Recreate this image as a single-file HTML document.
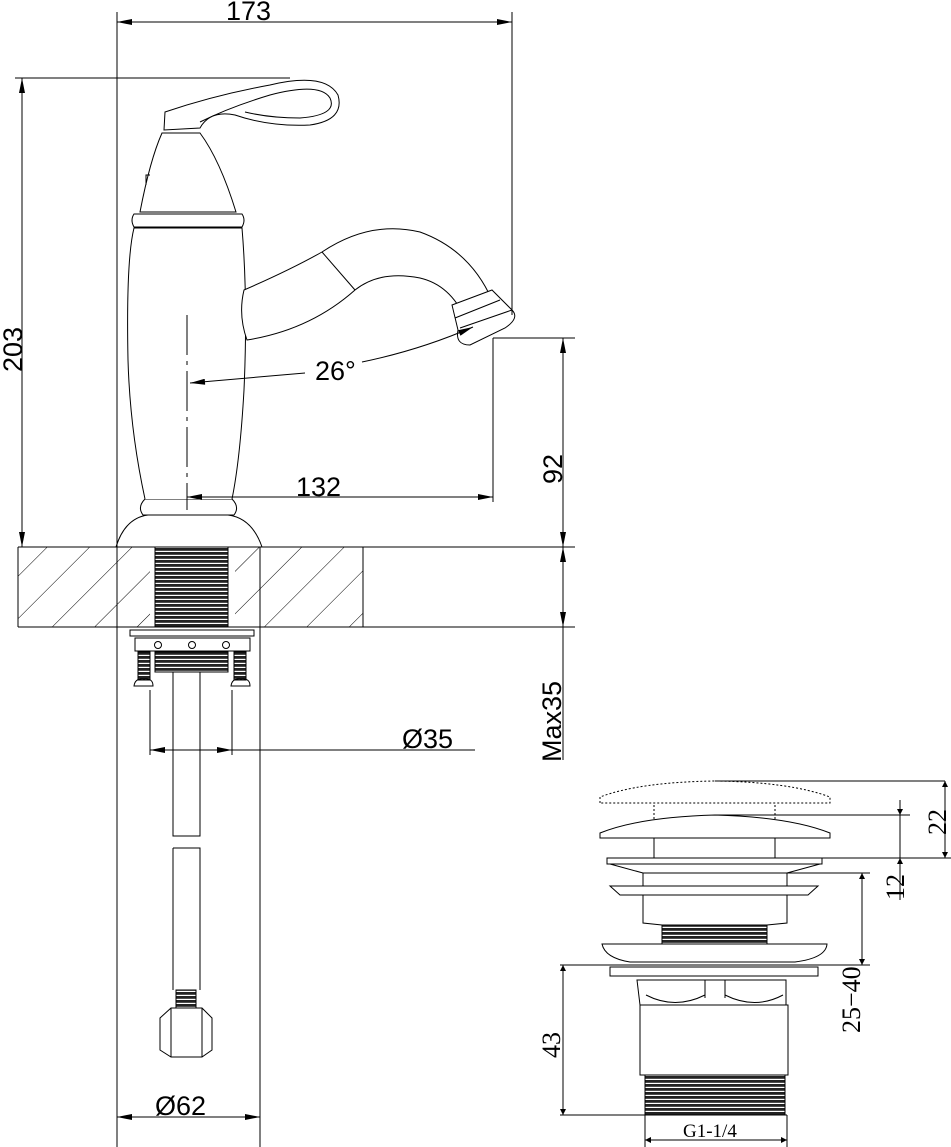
<!DOCTYPE html>
<html><head><meta charset="utf-8"><style>html,body{margin:0;padding:0;background:#fff}svg{display:block}</style></head>
<body>
<svg width="951" height="1147" viewBox="0 0 951 1147" xmlns="http://www.w3.org/2000/svg" font-family="Liberation Sans, sans-serif">
<defs>
<marker id="a" viewBox="0 0 10 10" refX="10" refY="5" markerWidth="10" markerHeight="6" orient="auto-start-reverse" markerUnits="userSpaceOnUse"><path d="M0,0L10,5L0,10z" fill="#000"/></marker>
<marker id="b" viewBox="0 0 20 8" refX="20" refY="4" markerWidth="20" markerHeight="6" orient="auto-start-reverse" markerUnits="userSpaceOnUse"><path d="M0,0L20,4L0,8z" fill="#000"/></marker>
<pattern id="hatch" width="30" height="30" patternUnits="userSpaceOnUse" patternTransform="rotate(45)"><line x1="0" y1="0" x2="0" y2="30" stroke="#000" stroke-width="1"/></pattern>
<pattern id="thr" width="6" height="4" patternUnits="userSpaceOnUse"><rect width="6" height="4" fill="#fff"/><rect y="0" width="6" height="2.8" fill="#222"/></pattern>
</defs>
<g fill="none" stroke="#000" stroke-width="1">
<rect x="18" y="547" width="345" height="80" fill="url(#hatch)" stroke="none"/>
<rect x="150" y="547" width="85" height="80" fill="#fff" stroke="none"/>
<line x1="18" y1="547" x2="575" y2="547"/>
<line x1="18" y1="627" x2="575" y2="627"/>
<line x1="18" y1="547" x2="18" y2="627"/>
<line x1="363" y1="547" x2="363" y2="627"/>
<path d="M116,547 Q125,518 148,515 L228,515 Q252,518 262,547 Z" fill="#fff"/>
<path d="M143,515 Q137,507 145,499 L232,499 Q240,507 234,515 Z" fill="#fff"/>
<path d="M145,499 Q130,430 128,360 Q126,260 134,228 L242,228 Q248,300 244,390 Q240,460 232,499" fill="#fff"/>
<path d="M134,227 Q130,220 134,214 L242,214 Q246,220 242,227 Z" fill="#fff"/>
<path d="M140,212 Q150,160 162,133 L200,133 Q220,160 236,212 Z" fill="#fff"/>
<path d="M150,175 L146,175 L146,185"/>
<path d="M164,130 L165,112 Q215,95 270,85 Q325,72 338,95 Q345,120 310,125 Q270,127 235,115 Q210,110 200,128 Z" fill="#fff"/>
<path d="M200,122 Q230,107 270,95 Q320,82 330,98 Q338,115 300,118 Q270,118 245,112"/>
<path d="M244,290 Q290,270 322,252 Q370,220 420,232 Q470,250 492,300 L465,318 Q450,285 420,278 Q380,270 355,290 Q310,330 247,340 Q238,315 244,290 Z" fill="#fff"/>
<line x1="322" y1="252" x2="355" y2="290"/>
<path d="M452,305 L492,290 L512,310 Q520,318 505,328 L470,345 Q455,345 458,330 Z" fill="#fff"/>
<line x1="455" y1="318" x2="500" y2="300"/>
<line x1="460" y1="328" x2="512" y2="310"/>
<rect x="155" y="547" width="73" height="80" fill="url(#thr)"/>
<rect x="130" y="630" width="124" height="6" fill="#fff"/>
<rect x="135" y="638" width="115" height="13" fill="#fff"/>
<circle cx="158" cy="645" r="3.5"/><circle cx="192" cy="645" r="3.5"/><circle cx="226" cy="645" r="3.5"/>
<rect x="155" y="652" width="73" height="20" fill="url(#thr)"/>
<rect x="138" y="652" width="12" height="28" fill="url(#thr)"/>
<rect x="234" y="652" width="12" height="28" fill="url(#thr)"/>
<path d="M134,686 Q135,678 144,679 Q153,678 153,686 Z"/>
<path d="M231,686 Q232,678 241,679 Q250,678 250,686 Z"/>
<path d="M173,672 L173,836 L200,836 L200,672"/>
<path d="M173,848 L200,848 L200,990 M173,848 L173,990"/>
<rect x="176" y="990" width="20" height="18" fill="url(#thr)"/>
<path d="M160,1018 L171,1008 L202,1008 L212,1018 L212,1050 L202,1057 L171,1057 L160,1050 Z" fill="#fff"/>
<line x1="171" y1="1008" x2="171" y2="1057"/><line x1="202" y1="1008" x2="202" y2="1057"/>
<line x1="117" y1="12" x2="117" y2="1147"/>
<line x1="512" y1="12" x2="512" y2="315"/>
<line x1="15" y1="78" x2="290" y2="78"/>
<line x1="260" y1="547" x2="260" y2="1147"/>
<line x1="493" y1="338" x2="575" y2="338"/>
<line x1="493" y1="338" x2="493" y2="502"/>
<line x1="117" y1="22" x2="512" y2="22" marker-start="url(#b)" marker-end="url(#b)"/>
<line x1="22" y1="78" x2="22" y2="547" marker-start="url(#b)" marker-end="url(#b)"/>
<line x1="563" y1="338" x2="563" y2="547" marker-start="url(#b)" marker-end="url(#b)"/>
<line x1="563" y1="547" x2="563" y2="627" marker-start="url(#b)" marker-end="url(#b)"/>
<line x1="563" y1="627" x2="563" y2="760"/>
<line x1="187" y1="497" x2="493" y2="497" marker-start="url(#b)" marker-end="url(#b)"/>
<line x1="187" y1="315" x2="187" y2="510" stroke-dasharray="40,6,4,6"/>
<path d="M190,383 Q250,378 305,373" marker-start="url(#b)"/>
<path d="M362,362 Q420,350 473,327" marker-end="url(#b)"/>
<line x1="150" y1="750" x2="232" y2="750" marker-start="url(#b)" marker-end="url(#b)"/>
<line x1="232" y1="750" x2="475" y2="750"/>
<line x1="150" y1="690" x2="150" y2="755"/>
<line x1="232" y1="690" x2="232" y2="755"/>
<line x1="117" y1="1117" x2="260" y2="1117" marker-start="url(#b)" marker-end="url(#b)"/>
<path d="M600,803 L600,797 Q640,782 715,781 Q790,782 830,797 L830,803 Z" stroke-dasharray="2,2"/>
<line x1="654" y1="805" x2="654" y2="830" stroke-dasharray="2,2"/><line x1="775" y1="805" x2="775" y2="830" stroke-dasharray="2,2"/>
<line x1="715" y1="781" x2="945" y2="781"/>
<path d="M600,838 L600,833 Q640,817 715,815 Q790,817 830,833 L830,838 Z" fill="#fff"/>
<line x1="715" y1="815" x2="910" y2="815"/>
<rect x="654" y="838" width="121" height="20" fill="#fff"/>
<rect x="607" y="858" width="215" height="6" fill="#fff"/>
<path d="M610,864 L643,873 L787,873 L820,864"/>
<line x1="787" y1="873" x2="870" y2="873"/>
<path d="M643,873 L643,923 L662,925 L767,925 L787,923 L787,873"/>
<path d="M610,886 L818,886 L808,895 L620,895 Z" fill="#fff"/>
<rect x="662" y="925" width="105" height="20" fill="url(#thr)"/>
<path d="M602,944 L827,944 Q826,958 795,962 L630,962 Q605,958 602,944 Z" fill="#fff"/>
<line x1="560" y1="965" x2="870" y2="965"/>
<rect x="610" y="967" width="208" height="9" fill="#fff"/>
<path d="M637,980 L786,980 L786,1005 L640,1005 Z" fill="#fff"/>
<line x1="705" y1="980" x2="705" y2="998"/><line x1="725" y1="980" x2="725" y2="998"/>
<path d="M646,995 Q675,1010 705,995 M725,995 Q755,1010 783,995"/>
<rect x="640" y="1005" width="148" height="70" fill="#fff"/>
<rect x="645" y="1075" width="140" height="40" fill="url(#thr)"/>
<line x1="560" y1="1115" x2="787" y2="1115"/>
<line x1="645" y1="1115" x2="645" y2="1147"/><line x1="787" y1="1115" x2="787" y2="1147"/>
<line x1="645" y1="1140" x2="787" y2="1140" marker-start="url(#a)" marker-end="url(#a)"/>
<line x1="945" y1="781" x2="945" y2="858" marker-start="url(#a)" marker-end="url(#a)"/>
<line x1="822" y1="858" x2="951" y2="858"/>
<line x1="900" y1="800" x2="900" y2="815" marker-end="url(#a)"/>
<line x1="900" y1="858" x2="900" y2="900" marker-start="url(#a)"/>
<line x1="900" y1="815" x2="900" y2="858"/>
<line x1="862" y1="873" x2="862" y2="965" marker-start="url(#a)" marker-end="url(#a)"/>
<line x1="563" y1="965" x2="563" y2="1115" marker-start="url(#a)" marker-end="url(#a)"/>
</g>
<g font-size="27" fill="#000">
<rect x="305" y="355" width="55" height="30" fill="#fff"/>
<text x="226" y="20">173</text>
<text transform="translate(22,372) rotate(-90)">203</text>
<text x="315" y="380">26°</text>
<text x="296" y="496">132</text>
<text transform="translate(562,484) rotate(-90)">92</text>
<text transform="translate(561,762) rotate(-90)">Max35</text>
<text x="402" y="748">Ø35</text>
<text x="155" y="1115">Ø62</text>
</g>
<g font-family="Liberation Serif, serif" font-size="26" fill="#000">
<text transform="translate(946,835) rotate(-90)">22</text>
<text transform="translate(904,900) rotate(-90)">12</text>
<text transform="translate(860,1033) rotate(-90)">25−40</text>
<text transform="translate(560,1058) rotate(-90)">43</text>
<text x="683" y="1137" font-size="19">G1-1/4</text>
</g>
</svg>
</body></html>
